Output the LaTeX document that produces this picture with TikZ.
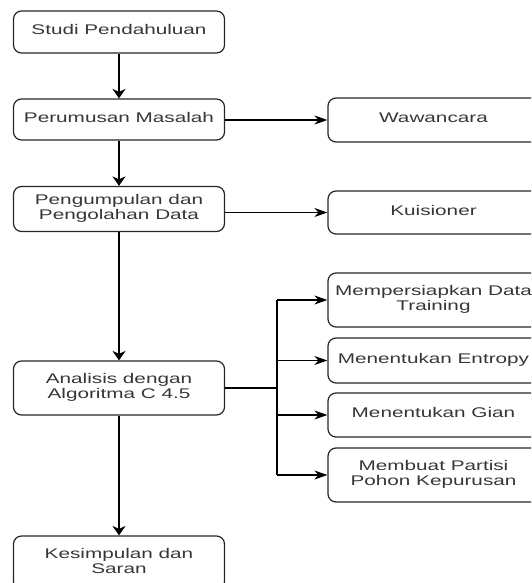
\documentclass[tikz,border=0pt]{standalone}
\usepackage{fontspec}
\setmainfont{Liberation Sans}
\usepackage{graphicx}
\usetikzlibrary{arrows.meta}

\definecolor{edge}{HTML}{262626}
\definecolor{label}{HTML}{363636}

% wide, centred (possibly two-line) label
\newcommand{\wide}[1]{\scalebox{1.48}[1]{\begin{tabular}{@{}c@{}}#1\end{tabular}}}

\begin{document}
\begin{tikzpicture}[x=1pt, y=-1pt,
  stage/.style={draw=edge, line width=1.2pt, rounded corners=8pt,
    minimum width=211pt, inner sep=0pt, text=label,
    font=\fontsize{14}{14.5}\selectfont},
  down/.style={draw=black, line width=1.5pt,
    -{Stealth[length=9.5pt, width=13pt, inset=3pt]}},
  across/.style={draw=black, line width=1.3pt,
    -{Stealth[length=13pt, width=9pt, inset=4pt]}},
  bus/.style={draw=black, line width=1.3pt}]

\useasboundingbox (0,0) rectangle (531,583);
\clip (0,0) rectangle (531,583);

% main column
\node[stage, minimum height=42pt] (studi)   at (119,32)    {\wide{Studi Pendahuluan}};
\node[stage, minimum height=41pt] (rumus)   at (119,119.5) {\wide{Perumusan Masalah}};
\node[stage, minimum height=45pt] (kumpul)  at (119,209)   {\wide{Pengumpulan dan\\Pengolahan Data}};
\node[stage, minimum height=54pt] (analisa) at (119,388)   {\wide{Analisis dengan\\Algoritma C 4.5}};
\node[stage, minimum height=54pt] (simpul)  at (119,563)   {\wide{Kesimpulan dan\\Saran}};

% side column
\node[stage, minimum height=44pt] (wawan)   at (433.5,120)   {\wide{Wawancara}};
\node[stage, minimum height=43pt] (kuis)    at (433.5,212.5) {\wide{Kuisioner}};
\node[stage, minimum height=54pt] (latih)   at (433.5,300)   {\wide{Mempersiapkan Data\\Training}};
\node[stage, minimum height=45pt] (entropi) at (433.5,360.5) {\wide{Menentukan Entropy}};
\node[stage, minimum height=44pt] (gain)    at (433.5,415)   {\wide{Menentukan Gian}};
\node[stage, minimum height=54pt] (partisi) at (433.5,475)   {\wide{Membuat Partisi\\Pohon Kepurusan}};

% flow down the main column
\draw[down] (studi)   -- (rumus);
\draw[down] (rumus)   -- (kumpul);
\draw[down] (kumpul)  -- (analisa);
\draw[down] (analisa) -- (simpul);

% data collection methods
\draw[across] (rumus.east |- wawan.west) -- (wawan.west);
\draw[across] (kumpul.east |- kuis.west) -- (kuis.west);

% C4.5 steps
\coordinate (fork) at (277,388);
\draw[bus] (analisa.east) -- (fork);
\draw[bus] (fork |- latih.west) -- (fork |- partisi.west);
\foreach \s in {latih, entropi, gain, partisi}
  \draw[across] (fork |- \s.west) -- (\s.west);

\end{tikzpicture}
\end{document}
